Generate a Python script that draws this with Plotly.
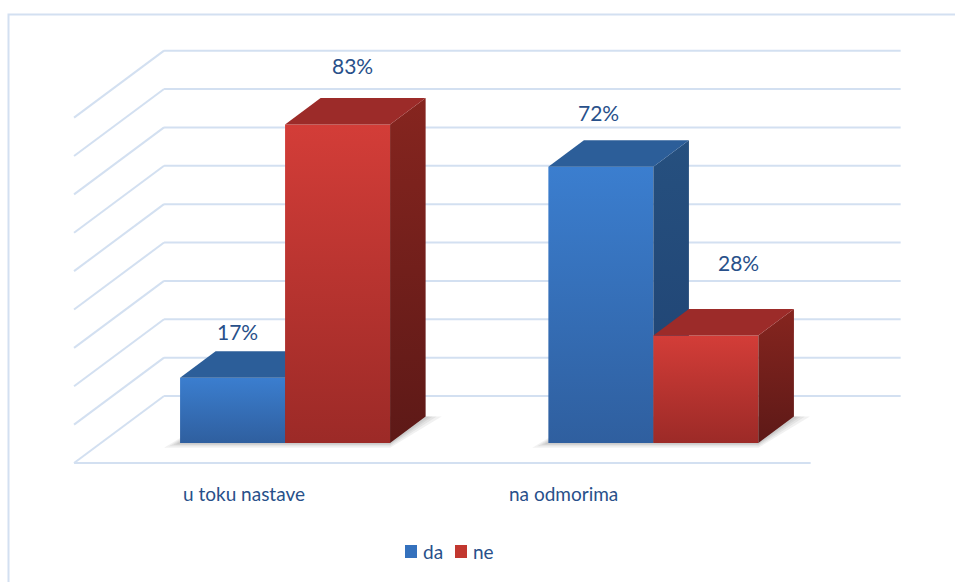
import plotly.graph_objects as go

# ---- data ----
categories = ["u toku nastave", "na odmorima"]
series_names = ["da", "ne"]
da_values = [17, 72]
ne_values = [83, 28]
value_ticks = [0, 10, 20, 30, 40, 50, 60, 70, 80, 90]

# ---- styling ----
W, H = 955, 582
TEXT = "#28508a"
GRID = "#d3e0f1"
FONT = "Lato"
face_colors = {
    "da": dict(front=("#2f5f9f", "#3b7ecf"), top="#2c5e99", side=("#1f4272", "#26507f"), legend="#3471bd"),
    "ne": dict(front=("#9c2a27", "#d33d38"), top="#9c2b29", side=("#5d1917", "#86251f"), legend="#c2372f"),
}

# oblique projection: pixel scale of the axes and the depth vector
PX_PER_CAT = 368.3
PX_PER_PCT = 3.837
X0_PX = 258.2          # first category centre on the front floor edge
Y0_PX = 463.0          # front floor edge
x_range = [-X0_PX / PX_PER_CAT, (W - X0_PX) / PX_PER_CAT]
y_range = [-(H - Y0_PX) / PX_PER_PCT, Y0_PX / PX_PER_PCT]

DEPTH_DX = 90 / PX_PER_CAT     # full floor depth, in axis units
DEPTH_DY = 67 / PX_PER_PCT
BAR_FRONT = 0.2985             # depth fraction where the bar fronts sit
BAR_DEPTH = 0.395              # depth fraction occupied by a bar
BAR_W = 105 / PX_PER_CAT


def proj(x, v, d):
    return x + d * DEPTH_DX, v + d * DEPTH_DY


def polygon(points, **style):
    xs = [p[0] for p in points] + [points[0][0]]
    ys = [p[1] for p in points] + [points[0][1]]
    return go.Scatter(x=xs, y=ys, mode="lines", line=dict(width=0), fill="toself",
                      hoverinfo="skip", showlegend=False, **style)


fig = go.Figure()

# ---- walls: gridlines on the back wall and the left wall, floor edge ----
gx, gy = [], []
for v in value_ticks:
    for a, b in ((proj(-0.5, v, 0), proj(-0.5, v, 1)), (proj(-0.5, v, 1), proj(1.5, v, 1))):
        gx += [a[0], b[0], None]
        gy += [a[1], b[1], None]
a, b = proj(-0.5, 0, 0), proj(1.5, 0, 0)
gx += [a[0], b[0], None]
gy += [a[1], b[1], None]
fig.add_trace(go.Scatter(x=gx, y=gy, mode="lines", line=dict(color=GRID, width=2),
                         hoverinfo="skip", showlegend=False))

# ---- soft floor shadows under each group of columns ----
for i in range(len(categories)):
    xl, xr = i - BAR_W, i + BAR_W
    d0, d1 = BAR_FRONT, BAR_FRONT + BAR_DEPTH
    for e in (16, 11, 7, 4):
        ex, ey = e / PX_PER_CAT, e * 0.3 / PX_PER_PCT
        pts = [proj(xl - ex, -ey, d0), proj(xr, -ey, d0), proj(xr + ex, 0, d1), proj(xl, 0, d1)]
        fig.add_trace(polygon(pts, fillcolor="rgba(60,60,60,0.07)"))

# ---- 3D columns ----
values = {"da": da_values, "ne": ne_values}
d0, d1 = BAR_FRONT, BAR_FRONT + BAR_DEPTH
for i in range(len(categories)):
    for s, name in enumerate(series_names):
        v = values[name][i]
        c = face_colors[name]
        xl = i - BAR_W + s * BAR_W
        xr = xl + BAR_W
        front = [proj(xl, 0, d0), proj(xr, 0, d0), proj(xr, v, d0), proj(xl, v, d0)]
        top = [proj(xl, v, d0), proj(xr, v, d0), proj(xr, v, d1), proj(xl, v, d1)]
        side = [proj(xr, 0, d0), proj(xr, 0, d1), proj(xr, v, d1), proj(xr, v, d0)]
        fig.add_trace(polygon(front, fillgradient=dict(
            type="vertical", colorscale=[[0, c["front"][0]], [1, c["front"][1]]])))
        fig.add_trace(polygon(side, fillgradient=dict(
            type="vertical", colorscale=[[0, c["side"][0]], [1, c["side"][1]]])))
        fig.add_trace(polygon(top, fillcolor=c["top"]))

# ---- value labels above the columns ----
label_nudge = {("da", 0): (-13, 33), ("da", 1): (-20, 41),
               ("ne", 0): (-3, 46), ("ne", 1): (15, 60)}
annotations = []
for i in range(len(categories)):
    for s, name in enumerate(series_names):
        v = values[name][i]
        xc = i - BAR_W + s * BAR_W + BAR_W / 2
        px, py = proj(xc, v, d0 + BAR_DEPTH / 2)
        dx, dy = label_nudge[(name, i)]
        annotations.append(dict(x=px, y=py, xref="x", yref="y", text=f"{v}%", showarrow=False,
                                xanchor="center", yanchor="middle", xshift=dx, yshift=dy,
                                font=dict(family=FONT, size=21, color=TEXT)))

# ---- category labels under the floor ----
cat_nudge = [-14, -63]
for i, cat in enumerate(categories):
    px, py = proj(i, 0, 0)
    annotations.append(dict(x=px, y=py, xref="x", yref="y", text=cat, showarrow=False,
                            xanchor="center", yanchor="middle", xshift=cat_nudge[i], yshift=-30,
                            font=dict(family=FONT, size=19, color=TEXT)))

# ---- legend ----
shapes = []
legend_pos = [(405, 421), (455, 471)]
for (sq_x, tx), name in zip(legend_pos, series_names):
    shapes.append(dict(type="rect", xref="paper", yref="paper",
                       x0=sq_x / W, x1=(sq_x + 12) / W, y0=1 - 558 / H, y1=1 - 545 / H,
                       fillcolor=face_colors[name]["legend"], line=dict(width=0)))
    annotations.append(dict(x=tx / W, y=1 - 551 / H, xref="paper", yref="paper", text=name,
                            showarrow=False, xanchor="left", yanchor="middle",
                            font=dict(family=FONT, size=19, color=TEXT)))

# chart frame
shapes.append(dict(type="rect", xref="paper", yref="paper", x0=8.5 / W, x1=1.02,
                   y0=-0.02, y1=1 - 14.5 / H, line=dict(color=GRID, width=2), layer="below"))

fig.update_layout(
    width=W, height=H,
    margin=dict(l=0, r=0, t=0, b=0),
    paper_bgcolor="white", plot_bgcolor="white",
    xaxis=dict(range=x_range, visible=False, fixedrange=True),
    yaxis=dict(range=y_range, visible=False, fixedrange=True),
    showlegend=False,
    annotations=annotations,
    shapes=shapes,
)

fig.write_html("out.html")
